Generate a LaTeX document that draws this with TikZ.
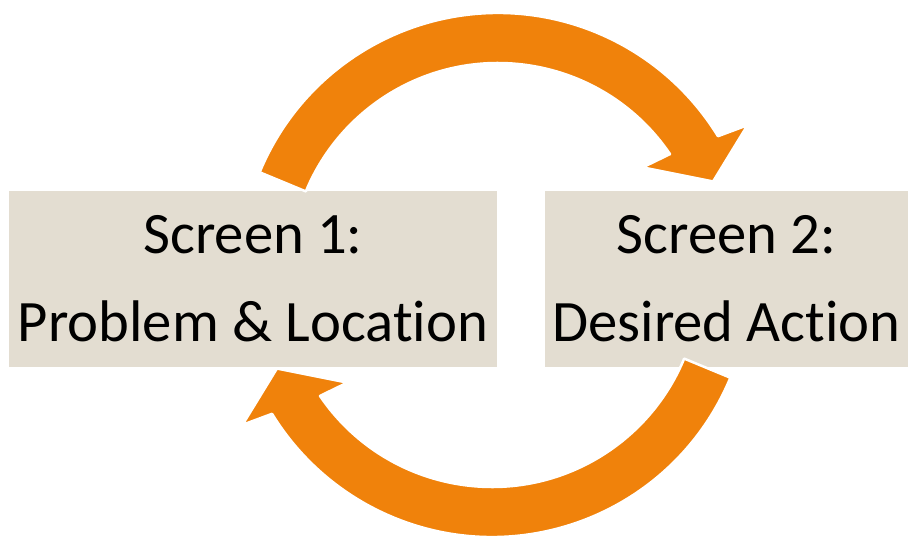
\documentclass[tikz,border=0pt]{standalone}
\usepackage{fontspec}
\setmainfont[Ligatures=NoCommon]{Carlito}
\begin{document}
\begin{tikzpicture}[x=0.02cm, y=0.02cm]
		\definecolor{boxfill}{HTML}{E3DDD1}
		\definecolor{cycorange}{HTML}{F0820B}
		\tikzstyle{screen} = [rectangle, fill=boxfill, align=center, inner sep=0pt, minimum height=3.52cm, font=\fontsize{33.4}{50}\selectfont]
		\tikzstyle{cycarrow} = [fill=cycorange, draw=white, line width=0.05cm, line join=round]
		\useasboundingbox (0,0) rectangle (909,535);
		\node [screen, minimum width=9.76cm] (S1) at (253,256) {Screen 1:\\Problem \& Location};
		\node [screen, minimum width=7.26cm] (S2) at (726.5,256) {Screen 2:\\Desired Action};
		\coordinate (topc) at (498,264);
		\coordinate (botc) at (492,256);
		% the two cycle arrows
		\foreach \c/\rot in {topc/0, botc/180} {
			\begin{scope}[shift={(\c)}, rotate=\rot]
				\filldraw [cycarrow] (157.5:258) arc [start angle=157.5, end angle=31.5, radius=258]
					-- (30.3:289) -- (22.6:233) -- (35.6:178) -- (34.2:208)
					arc [start angle=34.2, end angle=157.5, radius=208] -- cycle;
			\end{scope}
		}
	\end{tikzpicture}
\end{document}
